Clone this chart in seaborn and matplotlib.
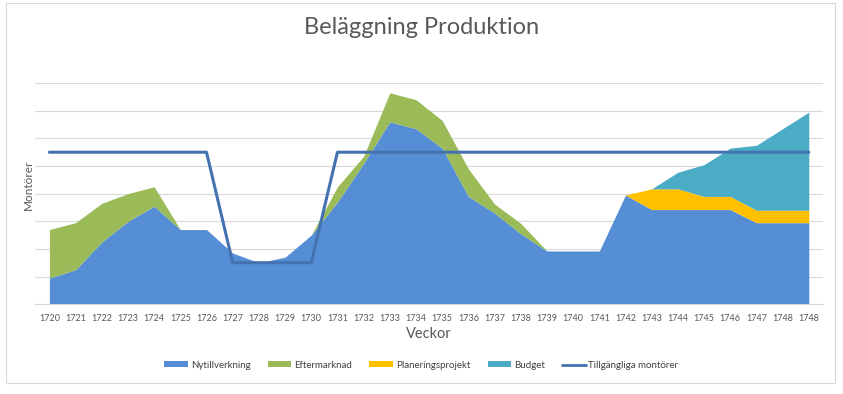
import numpy as np
import seaborn as sns
import matplotlib.pyplot as plt
from matplotlib.patches import Rectangle, Patch
from matplotlib.lines import Line2D

# veckor (sista etiketten finns två gånger i originalet)
veckor = [str(v) for v in range(1720, 1749)] + ['1748']

nytillverkning = [1.9, 2.5, 4.5, 6.0, 7.1, 5.4, 5.4, 3.7, 3.0, 3.4,
                  5.0, 7.4, 10.2, 13.2, 12.7, 11.3, 7.8, 6.6, 5.1, 3.85,
                  3.85, 3.85, 7.9, 6.85, 6.85, 6.85, 6.85, 5.9, 5.9, 5.9]
eftermarknad = [3.5, 3.4, 2.8, 2.0, 1.4, 0, 0, 0, 0, 0,
                0, 1.1, 0.5, 2.1, 2.1, 2.0, 2.0, 0.65, 0.75, 0,
                0, 0, 0, 0, 0, 0, 0, 0, 0, 0]
planeringsprojekt = [0] * 22 + [0, 1.5, 1.5, 0.95, 0.95, 0.9, 0.9, 0.9]
budget = [0] * 22 + [0, 0, 1.2, 2.3, 3.5, 4.7, 5.9, 7.1]
tillgangliga = [11] * 7 + [3] * 4 + [11] * 19

serier = ['Nytillverkning', 'Eftermarknad', 'Planeringsprojekt', 'Budget']
farger = ['#558ED5', '#9BBB59', '#FFC000', '#4BACC6']
linjefarg = '#4472B0'
textfarg = '#595959'

sns.set_theme(style='white')
plt.rcParams['font.family'] = ['Lato', 'DejaVu Sans']

fig = plt.figure(figsize=(8.43, 3.94), dpi=100)
ax = fig.add_axes([0.0415, 0.228, 0.935, 0.561])

x = np.arange(len(veckor))
ax.stackplot(x, nytillverkning, eftermarknad, planeringsprojekt, budget,
             colors=farger, linewidth=0, zorder=2)
sns.lineplot(x=x, y=tillgangliga, ax=ax, color=linjefarg, linewidth=2.2,
             zorder=3, legend=False)

ax.set_xlim(-0.55, len(veckor) - 0.45)
ax.set_ylim(0, 16)
ax.set_yticks(np.arange(0, 17, 2))
ax.set_yticklabels([])
ax.yaxis.grid(True, color='#D9D9D9', linewidth=0.8, zorder=0)
ax.set_axisbelow(True)
ax.set_xticks(x)
ax.set_xticklabels(veckor, fontsize=6.5, color=textfarg)
ax.tick_params(axis='x', length=0, pad=7)
ax.tick_params(axis='y', length=0)
for s in ['top', 'right', 'left']:
    ax.spines[s].set_visible(False)
ax.spines['bottom'].set_color('#D9D9D9')
ax.spines['bottom'].set_linewidth(0.8)

ax.set_xlabel('Veckor', fontsize=10.5, color=textfarg, labelpad=3)
ax.set_ylabel('Montörer', fontsize=8.5, color=textfarg)
ax.yaxis.set_label_coords(-0.002, 0.54)

fig.text(0.5, 0.929, 'Beläggning Produktion', ha='center', va='center',
         fontsize=17, color=textfarg)

handles = [Patch(facecolor=c, edgecolor='none') for c in farger]
handles.append(Line2D([0], [0], color=linjefarg, linewidth=2))
fig.legend(handles, serier + ['Tillgängliga montörer'], loc='center',
           bbox_to_anchor=(0.5, 0.073), ncol=5, frameon=False, fontsize=7,
           handlelength=2.4, handleheight=0.55, handletextpad=0.3,
           columnspacing=1.8, labelcolor='#404040')

fig.patches.append(Rectangle((0.007, 0.028), 0.983, 0.965, transform=fig.transFigure,
                             fill=False, edgecolor='#D9D9D9', linewidth=0.8))

fig.savefig('out.png', dpi=100, facecolor='white')
